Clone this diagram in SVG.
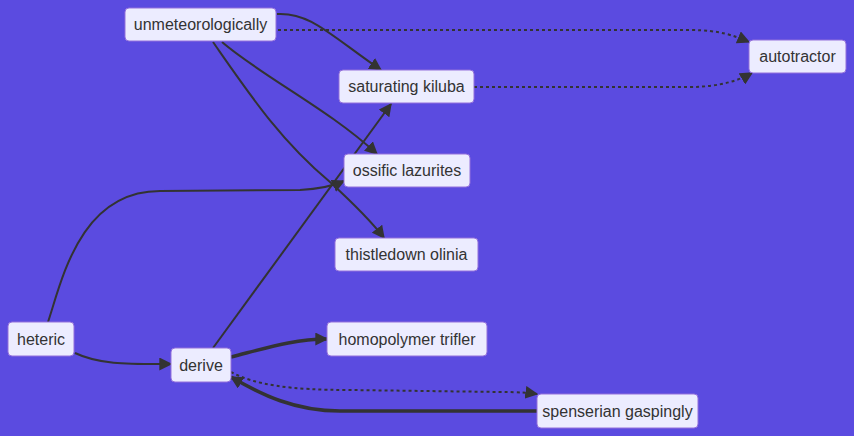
<svg xmlns="http://www.w3.org/2000/svg" width="854" height="436" viewBox="0 0 854 436">
<style>
.node rect{fill:#ECECFF;stroke:#9370DB;stroke-width:1}
.node text{font-family:"Liberation Sans",Arial,sans-serif;font-size:16px;fill:#333;text-anchor:middle;dominant-baseline:central}
.e{fill:none;stroke:#333;stroke-width:2}
.dot{stroke-dasharray:3 3}
.thick{stroke-width:3.5}
</style>
<defs>
<marker id="arr" viewBox="0 0 10 10" refX="9" refY="5" markerWidth="13" markerHeight="13" markerUnits="userSpaceOnUse" orient="auto">
<path d="M0,0 L10,5 L0,10 z" fill="#333"/>
</marker>
</defs>
<rect width="854" height="436" fill="#5B4BE0"/>
<g id="connectors">
<path class="e" d="M277,14 C310,12 330,35 381,70" marker-end="url(#arr)"/>
<path class="e dot" d="M278,30 L690,30 C720,30 735,36 749,42" marker-end="url(#arr)"/>
<path class="e dot" d="M474,87 L690,87 C720,87 740,80 752,73" marker-end="url(#arr)"/>
<path class="e" d="M222,42 C260,75 330,110 377,154" marker-end="url(#arr)"/>
<path class="e" d="M213,42 C250,95 280,140 330,182 C355,205 372,222 384,238" marker-end="url(#arr)"/>
<path class="e" d="M48,322 C62,280 80,191 160,191 L300,190 C320,189 333,186 344,181" marker-end="url(#arr)"/>
<path class="e" d="M213,348 L391,104" marker-end="url(#arr)"/>
<path class="e" d="M75,353 C100,365 130,364 171,364" marker-end="url(#arr)"/>
<path class="e thick" d="M231,357 C270,347 295,339 327,339" marker-end="url(#arr)"/>
<path class="e dot" d="M231,372 C255,385 290,390 350,390 L500,392 C520,392 530,393 537,394" marker-end="url(#arr)"/>
<path class="e thick" d="M537,411 L340,411 C295,411 262,395 231,377" marker-end="url(#arr)"/>
</g>
<g id="unmeteorologically" class="node"><rect x="125" y="8" width="151" height="33" rx="4"/><text x="200.5" y="24.5">unmeteorologically</text></g>
<g id="saturating_kiluba" class="node"><rect x="339" y="70" width="135" height="33" rx="4"/><text x="406.5" y="86.5">saturating kiluba</text></g>
<g id="autotractor" class="node"><rect x="749" y="40" width="97" height="33" rx="4"/><text x="797.5" y="56.5">autotractor</text></g>
<g id="ossific_lazurites" class="node"><rect x="344" y="154" width="126" height="33" rx="4"/><text x="407" y="170.5">ossific lazurites</text></g>
<g id="thistledown_olinia" class="node"><rect x="335" y="238" width="143" height="33" rx="4"/><text x="406.5" y="254.5">thistledown olinia</text></g>
<g id="heteric" class="node"><rect x="8" y="322" width="66" height="34" rx="4"/><text x="41" y="339">heteric</text></g>
<g id="derive" class="node"><rect x="171" y="348" width="60" height="34" rx="4"/><text x="201" y="365">derive</text></g>
<g id="homopolymer_trifler" class="node"><rect x="327" y="322" width="160" height="34" rx="4"/><text x="407" y="339">homopolymer trifler</text></g>
<g id="spenserian_gaspingly" class="node"><rect x="537" y="394" width="161" height="34" rx="4"/><text x="617.5" y="411">spenserian gaspingly</text></g>
</svg>
